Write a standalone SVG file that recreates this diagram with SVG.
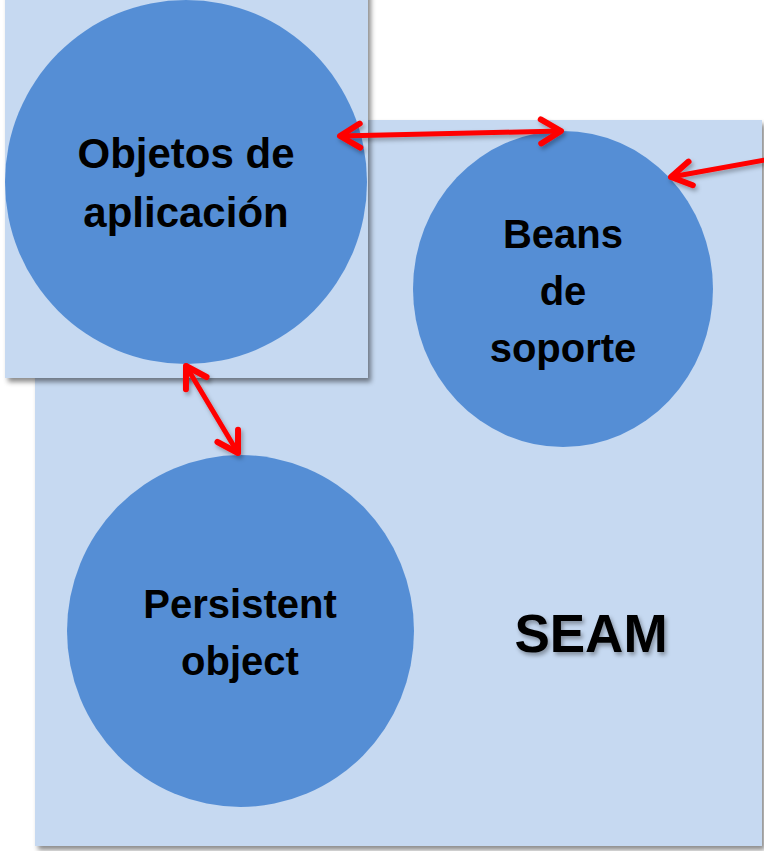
<svg xmlns="http://www.w3.org/2000/svg" width="764" height="851" viewBox="0 0 764 851">
<style>
.panel{fill:#C6D9F1;filter:url(#sh)}
.node{fill:#558ED5}
.lbl{font-family:"Liberation Sans",Arial,sans-serif;font-weight:bold;fill:#000;text-anchor:middle}
.conn{stroke:#FF0000;stroke-width:5;fill:none;stroke-linecap:round;marker-end:url(#ah)}
.both{marker-start:url(#ah)}
</style>
<defs>
<filter id="sh" x="-5%" y="-5%" width="112%" height="112%">
<feDropShadow dx="3" dy="4" stdDeviation="2.5" flood-color="#000" flood-opacity="0.45"/>
</filter>
<filter id="ash" filterUnits="userSpaceOnUse" x="0" y="0" width="764" height="851">
<feDropShadow dx="2" dy="3" stdDeviation="2" flood-color="#000" flood-opacity="0.3"/>
</filter>
<filter id="tsh" x="-10%" y="-10%" width="120%" height="130%">
<feDropShadow dx="2" dy="3" stdDeviation="2" flood-color="#000" flood-opacity="0.35"/>
</filter>
<marker id="ah" markerUnits="userSpaceOnUse" markerWidth="34" markerHeight="34" viewBox="-28 -17 34 34" refX="0" refY="0" orient="auto-start-reverse">
<path d="M -20 -12 L 0 0 L -20 12" fill="none" stroke="#FF0000" stroke-width="6" stroke-linecap="round" stroke-linejoin="round"/>
</marker>
</defs>

<g id="seam-panel">
<rect class="panel" x="35" y="120" width="727" height="726"/>
<text class="lbl" x="591" y="652" font-size="53" filter="url(#tsh)">SEAM</text>
</g>

<g id="app-panel">
<rect class="panel" x="5" y="-10" width="363" height="388"/>
</g>

<g id="objetos">
<ellipse class="node" cx="186" cy="182" rx="181" ry="182"/>
<text class="lbl" font-size="42"><tspan x="186" y="168">Objetos de</tspan><tspan x="186" y="227">aplicación</tspan></text>
</g>

<g id="beans">
<ellipse class="node" cx="563" cy="289" rx="150" ry="158"/>
<text class="lbl" font-size="40"><tspan x="563" y="248">Beans</tspan><tspan x="563" y="305">de</tspan><tspan x="563" y="362">soporte</tspan></text>
</g>

<g id="persistent">
<ellipse class="node" cx="240.5" cy="631" rx="173.5" ry="176"/>
<text class="lbl" font-size="40"><tspan x="240" y="618">Persistent</tspan><tspan x="240" y="675">object</tspan></text>
</g>

<g id="connectors" filter="url(#ash)">
<path class="conn both" d="M 340 136 L 561 131"/>
<path class="conn" d="M 770 159 L 671 177"/>
<path class="conn both" d="M 186 366 L 238 453"/>
</g>
</svg>
